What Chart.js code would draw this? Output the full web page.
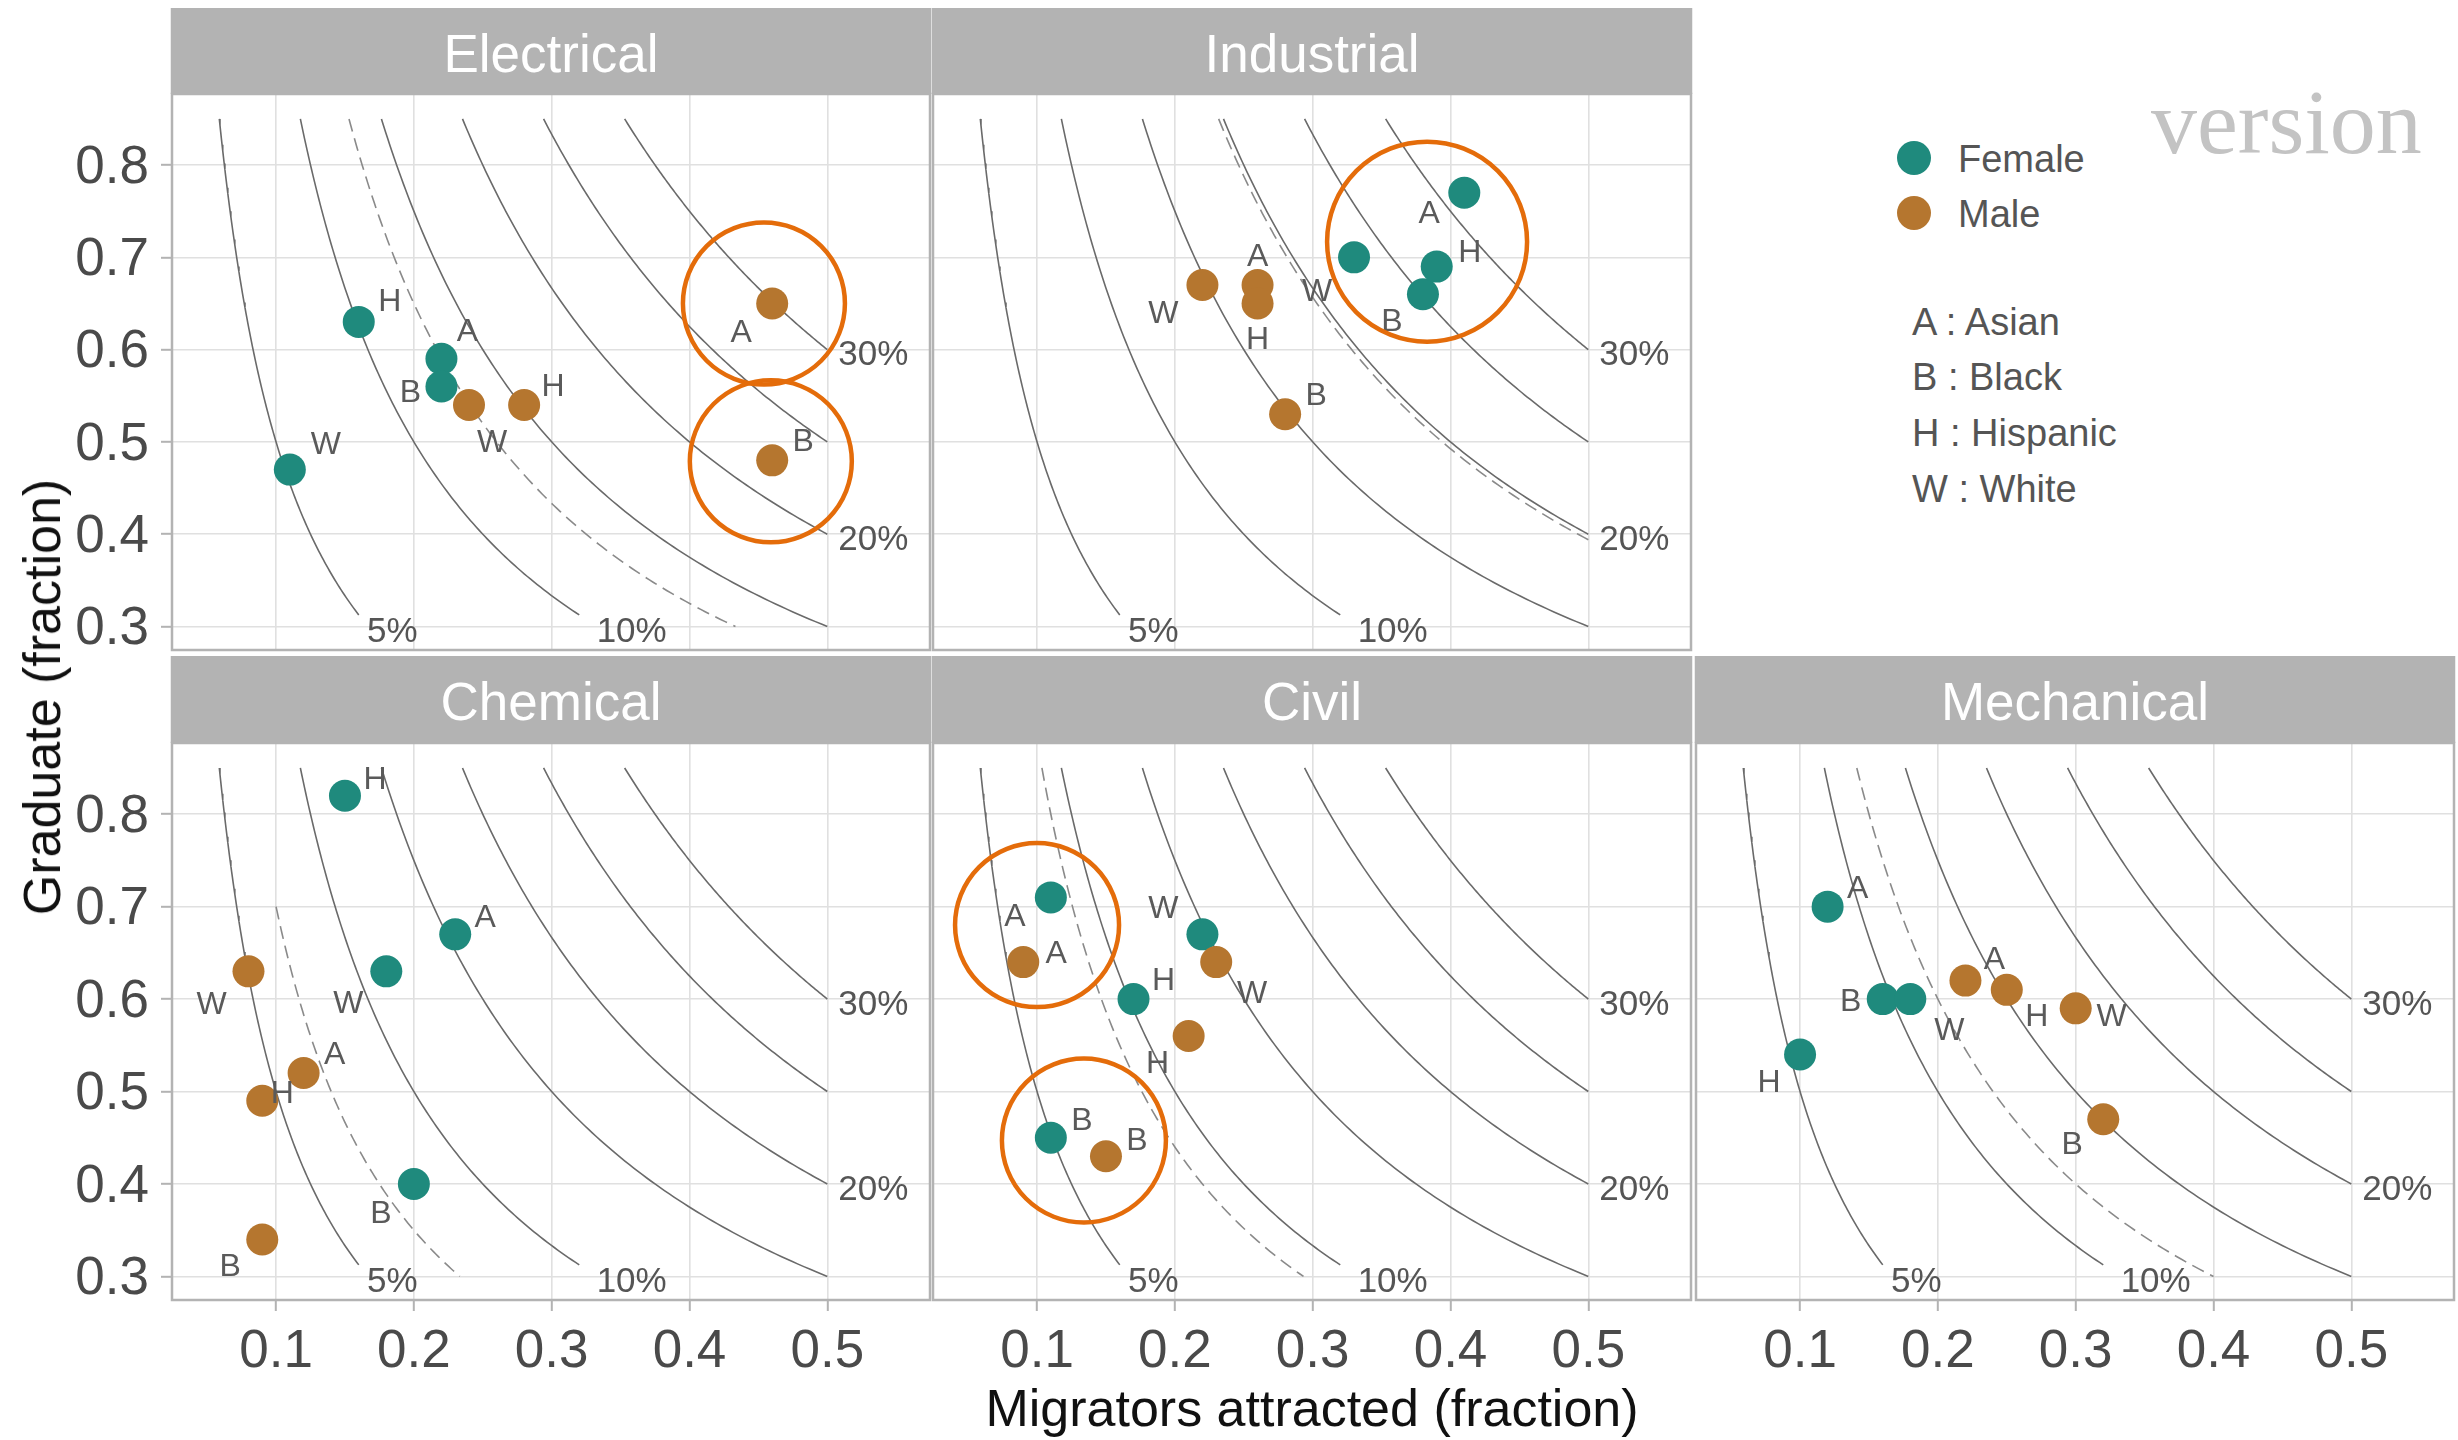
<!DOCTYPE html>
<html>
<head>
<meta charset="utf-8">
<script src="https://cdn.jsdelivr.net/npm/chart.js@4.4.1/dist/chart.umd.min.js"></script>
<style>
  html, body { margin: 0; padding: 0; background: #ffffff; }
  #page { position: relative; width: 2458px; height: 1440px; overflow: hidden; background: #ffffff;
          font-family: 'Liberation Sans', Arial, sans-serif; }
  #page canvas { position: absolute; }
  .txt { position: absolute; white-space: nowrap; line-height: 1; }
  .dot { position: absolute; border-radius: 50%; }
</style>
</head>
<body>
<div id="page"></div>
<script>
// ---------------- data ----------------
const disciplines = ['Electrical', 'Industrial', 'Chemical', 'Civil', 'Mechanical'];
const raceCodes = ['A', 'B', 'H', 'W'];
const raceNames = ['Asian', 'Black', 'Hispanic', 'White'];
const genders = ['Female', 'Male'];

// one row per discipline, columns in raceCodes order
const femaleMigrators = [
  [0.22, 0.22, 0.16, 0.11],
  [0.41, 0.38, 0.39, 0.33],
  [0.23, 0.20, 0.15, 0.18],
  [0.11, 0.11, 0.17, 0.22],
  [0.12, 0.16, 0.10, 0.18]
];
const femaleGraduate = [
  [0.59, 0.56, 0.63, 0.47],
  [0.77, 0.66, 0.69, 0.70],
  [0.67, 0.40, 0.82, 0.63],
  [0.71, 0.45, 0.60, 0.67],
  [0.70, 0.60, 0.54, 0.60]
];
const maleMigrators = [
  [0.46, 0.46, 0.28, 0.24],
  [0.26, 0.28, 0.26, 0.22],
  [0.12, 0.09, 0.09, 0.08],
  [0.09, 0.15, 0.21, 0.23],
  [0.22, 0.32, 0.25, 0.30]
];
const maleGraduate = [
  [0.65, 0.48, 0.54, 0.54],
  [0.67, 0.53, 0.65, 0.67],
  [0.52, 0.34, 0.49, 0.63],
  [0.64, 0.43, 0.56, 0.64],
  [0.62, 0.47, 0.61, 0.59]
];

// contours of migrators x graduate
const isoLevels = [0.05, 0.10, 0.15, 0.20, 0.25, 0.30];
const isoLabelLevels = [0.05, 0.10, 0.20, 0.30];
const isoLabelText = ['5%', '10%', '20%', '30%'];
const disciplineLevel = [0.13, 0.197, 0.07, 0.088, 0.12];

const xTicks = [0.1, 0.2, 0.3, 0.4, 0.5];
const yTicks = [0.3, 0.4, 0.5, 0.6, 0.7, 0.8];

// ---------------- layout ----------------
const femaleLabelShift = [
  [[26, -27], [-31, 7], [31, -20], [36, -24]],
  [[-35, 21], [-31, 28], [33, -13], [-37, 35]],
  [[30, -16], [-33, 30], [30, -16], [-38, 33]],
  [[-36, 20], [31, -17], [30, -18], [-39, -25]],
  [[30, -17], [-32, 3], [-31, 29], [39, 32]]
];
const maleLabelShift = [
  [[-31, 30], [31, -18], [29, -18], [23, 38]],
  [[0, -28], [31, -18], [0, 37], [-39, 29]],
  [[31, -18], [-32, 28], [20, -7], [-37, 34]],
  [[33, -8], [31, -15], [-31, 28], [36, 32]],
  [[29, -20], [-31, 26], [30, 27], [36, 9]]
];
const highlightRings = [
  { panel: 0, x: 0.454, y: 0.650, r: 81 },
  { panel: 0, x: 0.459, y: 0.479, r: 81 },
  { panel: 1, x: 0.383, y: 0.717, r: 100 },
  { panel: 3, x: 0.100, y: 0.680, r: 82 },
  { panel: 3, x: 0.134, y: 0.447, r: 82 }
];
const panelCell = [[0, 0], [0, 1], [1, 0], [1, 1], [1, 2]];
const colLeft = [172, 933, 1696];
const panelWidth = 758;
const stripTop = [8, 656];
const panelTop = [94, 743];
const panelBottom = [650, 1300];
const X_MIN = 0.0245, X_MAX = 0.5745, Y_MIN = 0.2745, Y_MAX = 0.877;
const M = 4;

const TEAL = '#1f8a7d', BROWN = '#b5762f';
const CURVE = '#6a6a6a', DASHED = '#8a8a8a';
const GRID = '#e0e0e0', FRAME = '#b3b3b3', STRIP = '#b3b3b3';
const RING = '#e46c0a';
const TICK_TEXT = '#4a4a4a';
const FONT = "'Liberation Sans', Arial, sans-serif";

const page = document.getElementById('page');

function curvePoints(c, xStart, xEnd) {
  const pts = [];
  const n = 120;
  const a = Math.log(xStart), b = Math.log(xEnd);
  for (let i = 0; i <= n; i++) {
    const x = Math.exp(a + (b - a) * i / n);
    pts.push({ x: x, y: c / x });
  }
  return pts;
}

const facetPlugin = {
  id: 'facet',
  afterDatasetsDraw(chart, args, opts) {
    const { ctx, scales: { x, y } } = chart;
    const p = opts.panel;
    ctx.save();
    // contour labels
    ctx.font = `35px ${FONT}`;
    ctx.fillStyle = '#555555';
    ctx.textBaseline = 'middle';
    ctx.textAlign = 'left';
    isoLabelLevels.forEach((c, i) => {
      if (c / 0.3 < 0.5) {
        ctx.fillText(isoLabelText[i], x.getPixelForValue(c / 0.3) - 1, y.getPixelForValue(0.3) + 6);
      } else {
        ctx.fillText(isoLabelText[i], x.getPixelForValue(0.5) + 11, y.getPixelForValue(c / 0.5) + 6);
      }
    });
    // race letters next to the points
    ctx.font = `32px ${FONT}`;
    ctx.fillStyle = '#5a5a5a';
    ctx.textAlign = 'center';
    [[0, maleLabelShift], [1, femaleLabelShift]].forEach(([di, shifts]) => {
      chart.getDatasetMeta(di).data.forEach((el, j) => {
        const s = shifts[p][j];
        ctx.fillText(raceCodes[j], el.x + s[0], el.y + s[1]);
      });
    });
    // highlighted groups
    ctx.strokeStyle = RING;
    ctx.lineWidth = 4.5;
    highlightRings.filter(r => r.panel === p).forEach(r => {
      ctx.beginPath();
      ctx.arc(x.getPixelForValue(r.x), y.getPixelForValue(r.y), r.r, 0, Math.PI * 2);
      ctx.stroke();
    });
    ctx.restore();
  },
  afterDraw(chart, args, opts) {
    const { ctx, chartArea: a } = chart;
    ctx.save();
    // facet strip
    ctx.fillStyle = STRIP;
    ctx.fillRect(a.left - 1.25, 0, a.width + 2.5, a.top);
    ctx.fillStyle = '#ffffff';
    ctx.font = `53px ${FONT}`;
    ctx.textAlign = 'center';
    ctx.textBaseline = 'middle';
    ctx.fillText(disciplines[opts.panel], (a.left + a.right) / 2, a.top / 2 + 6);
    // panel frame
    ctx.strokeStyle = FRAME;
    ctx.lineWidth = 2.5;
    ctx.strokeRect(a.left, a.top, a.width, a.height);
    ctx.restore();
  }
};

disciplines.forEach((name, p) => {
  const [row, col] = panelCell[p];
  const showY = col === 0;
  const showX = row === 1;
  const cLeft = showY ? 0 : colLeft[col] - M;
  const cTop = stripTop[row];
  const cRight = colLeft[col] + panelWidth + M;
  const cBottom = showX ? 1440 : panelBottom[row] + M;
  const yAxisWidth = showY ? colLeft[col] : 0;
  const xAxisHeight = showX ? 1440 - panelBottom[row] : 0;

  const canvas = document.createElement('canvas');
  canvas.width = cRight - cLeft;
  canvas.height = cBottom - cTop;
  canvas.style.left = cLeft + 'px';
  canvas.style.top = cTop + 'px';
  canvas.style.width = canvas.width + 'px';
  canvas.style.height = canvas.height + 'px';
  page.appendChild(canvas);

  const datasets = [
    {
      label: 'Male',
      data: maleMigrators[p].map((v, j) => ({ x: v, y: maleGraduate[p][j] })),
      backgroundColor: BROWN, borderWidth: 0, pointRadius: 16, order: 1
    },
    {
      label: 'Female',
      data: femaleMigrators[p].map((v, j) => ({ x: v, y: femaleGraduate[p][j] })),
      backgroundColor: TEAL, borderWidth: 0, pointRadius: 16, order: 2
    }
  ];
  isoLevels.forEach(c => {
    const xEnd = c / 0.3 < 0.5 ? c / 0.3125 : 0.5;
    datasets.push({
      data: curvePoints(c, c / 0.85, xEnd), showLine: true, pointRadius: 0,
      borderColor: CURVE, borderWidth: 1.6, fill: false, order: 3
    });
  });
  const d = disciplineLevel[p];
  datasets.push({
    data: curvePoints(d, Math.max(0.1, d / 0.85), Math.min(0.5, d / 0.3)), showLine: true, pointRadius: 0,
    borderColor: DASHED, borderWidth: 1.6, borderDash: [13, 7], fill: false, order: 3
  });

  new Chart(canvas, {
    type: 'scatter',
    data: { datasets },
    plugins: [facetPlugin],
    options: {
      responsive: false,
      animation: false,
      events: [],
      layout: {
        autoPadding: false,
        padding: { top: panelTop[row] - stripTop[row], left: showY ? 0 : M, right: M, bottom: showX ? 0 : M }
      },
      plugins: {
        legend: { display: false },
        tooltip: { enabled: false },
        facet: { panel: p }
      },
      scales: {
        x: {
          type: 'linear', position: 'bottom', min: X_MIN, max: X_MAX,
          afterBuildTicks: s => { s.ticks = xTicks.map(v => ({ value: v })); },
          afterFit: s => { s.height = xAxisHeight; s.paddingLeft = 0; s.paddingRight = 0; s.paddingTop = 0; s.paddingBottom = 0; },
          grid: { color: GRID, lineWidth: 1.6, drawTicks: showX, tickLength: 11, tickColor: FRAME, tickWidth: 2 },
          border: { display: false },
          ticks: {
            display: showX, padding: 10, color: TICK_TEXT,
            font: { family: FONT, size: 53 },
            callback: v => Number(v).toFixed(1)
          }
        },
        y: {
          type: 'linear', position: 'left', min: Y_MIN, max: Y_MAX,
          afterBuildTicks: s => { s.ticks = yTicks.map(v => ({ value: v })); },
          afterFit: s => { s.width = yAxisWidth; s.paddingLeft = 0; s.paddingRight = 0; s.paddingTop = 0; s.paddingBottom = 0; },
          grid: { color: GRID, lineWidth: 1.6, drawTicks: showY, tickLength: 11, tickColor: FRAME, tickWidth: 2 },
          border: { display: false },
          ticks: {
            display: showY, padding: 12, labelOffset: 3, color: TICK_TEXT,
            font: { family: FONT, size: 53 },
            callback: v => Number(v).toFixed(1)
          }
        }
      }
    }
  });
});

// ---------------- titles and legend ----------------
function addText(str, css) {
  const el = document.createElement('div');
  el.className = 'txt';
  el.textContent = str;
  Object.assign(el.style, css);
  page.appendChild(el);
  return el;
}

addText('Migrators attracted (fraction)', {
  left: '1312px', top: '1382px', fontSize: '52px', color: '#111111', transform: 'translateX(-50%)'
});
addText('Graduate (fraction)', {
  left: '42px', top: '697px', fontSize: '52px', color: '#111111',
  transform: 'translate(-50%, -50%) rotate(-90deg)'
});

const legendColours = [TEAL, BROWN];
genders.forEach((g, i) => {
  const cy = 158 + i * 54.5;
  const dot = document.createElement('div');
  dot.className = 'dot';
  Object.assign(dot.style, { left: (1914 - 17) + 'px', top: (cy - 17) + 'px', width: '34px', height: '34px', background: legendColours[i] });
  page.appendChild(dot);
  addText(g, { left: '1958px', top: (cy - 18) + 'px', fontSize: '38px', color: '#555555' });
});
raceCodes.forEach((c, i) => {
  const cy = 320.7 + i * 55.6;
  addText(c + ' : ' + raceNames[i], { left: '1912px', top: (cy - 18) + 'px', fontSize: '38px', color: '#555555' });
});

addText('version', {
  left: '2151px', top: '76px', fontSize: '92px', color: '#c3c3c3',
  fontFamily: "'Liberation Serif', 'Times New Roman', serif"
});
</script>
</body>
</html>
